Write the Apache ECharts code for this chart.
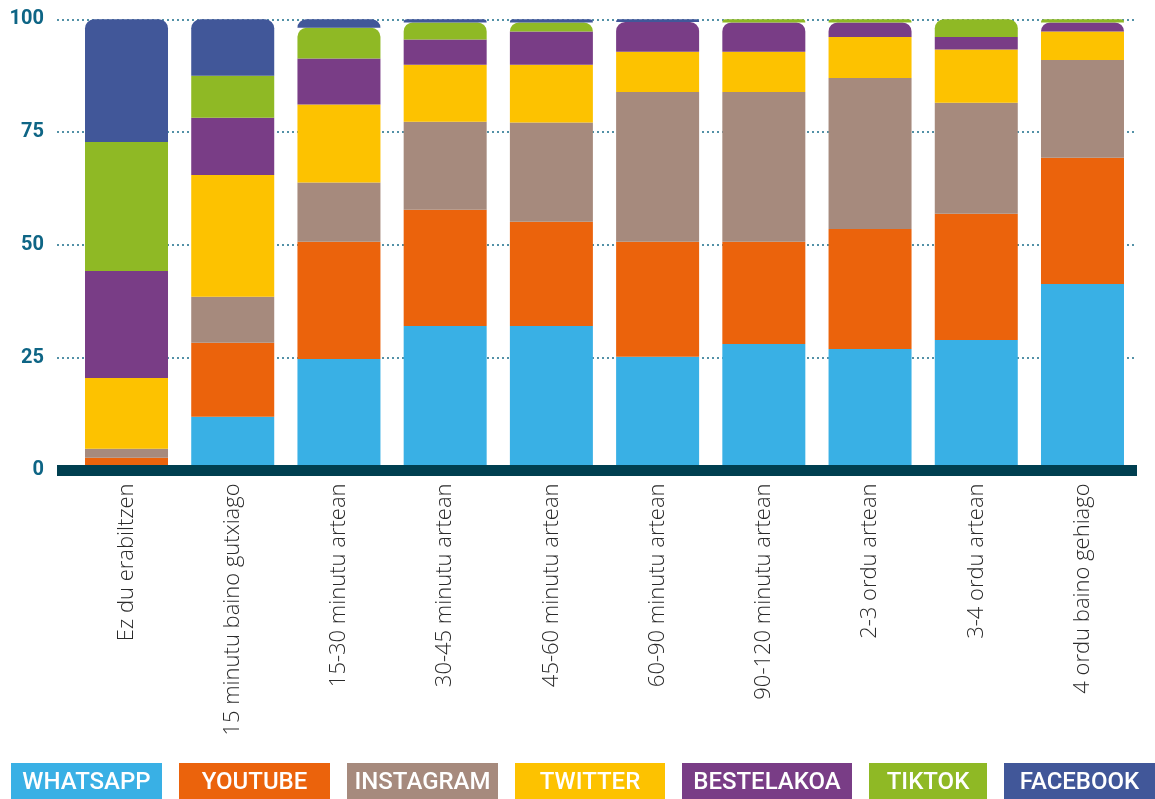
<!DOCTYPE html>
<html>
<head>
<meta charset="utf-8">
<script src="https://cdn.jsdelivr.net/npm/echarts@6/dist/echarts.min.js"></script>
<style>
html,body{margin:0;padding:0;background:#fff;}
#chart{width:1155px;height:799px;}
</style>
</head>
<body>
<div id="chart"></div>
<script>
const categories = ['Ez du erabiltzen','15 minutu baino gutxiago','15-30 minutu artean','30-45 minutu artean','45-60 minutu artean','60-90 minutu artean','90-120 minutu artean','2-3 ordu artean','3-4 ordu artean','4 ordu baino gehiago'];
const seriesNames = ['WHATSAPP','YOUTUBE','INSTAGRAM','TWITTER','BESTELAKOA','TIKTOK','FACEBOOK'];
const whatsapp   = [0, 11.9, 24.7, 32.0, 32.0, 25.2, 28.0, 26.9, 28.9, 41.3];
const youtube    = [2.8, 16.4, 26.0, 25.8, 23.1, 25.5, 22.7, 26.6, 28.0, 28.0];
const instagram  = [2.0, 10.2, 13.1, 19.5, 22.0, 33.2, 33.2, 33.5, 24.6, 21.7];
const twitter    = [15.7, 27.0, 17.3, 12.6, 12.8, 8.9, 8.9, 9.1, 11.8, 6.3];
const bestelakoa = [23.7, 12.7, 10.2, 5.6, 7.4, 6.6, 6.5, 3.2, 2.8, 2.0];
const tiktok     = [28.6, 9.3, 6.8, 3.8, 2.0, 0, 0.7, 0.7, 3.9, 0.7];
const facebook   = [27.2, 12.5, 1.9, 0.7, 0.7, 0.6, 0, 0, 0, 0];
const yTicks = [0, 25, 50, 75, 100];

const values = [whatsapp, youtube, instagram, twitter, bestelakoa, tiktok, facebook];
const colors = ['#39b0e5','#eb630c','#a68a7d','#fdc200','#793d86','#8fb925','#415799'];
const legendWidths = [151,151,151,150,170,118,151];

const R = 9;
const rounded = values.map(() => categories.map(() => false));
categories.forEach((c, ci) => {
  let accPx = 0;
  for (let s = values.length - 1; s >= 0; s--) {
    const v = values[s][ci];
    if (v <= 0) continue;
    rounded[s][ci] = true;
    accPx += v * 4.5;
    if (accPx >= R) break;
  }
});

const series = seriesNames.map((name, s) => ({
  name: name,
  type: 'bar',
  stack: 'total',
  xAxisIndex: 1,
  yAxisIndex: 1,
  barWidth: 83,
  itemStyle: { color: colors[s] },
  data: values[s].map((v, ci) => rounded[s][ci]
    ? { value: v, itemStyle: { borderRadius: [R, R, 0, 0] } }
    : v)
}));

const rich = {};
seriesNames.forEach((n, i) => {
  rich['s' + i] = {
    color: '#fff',
    backgroundColor: colors[i],
    fontSize: 24,
    fontWeight: 500,
    fontFamily: 'Roboto',
    width: legendWidths[i],
    align: 'center',
    lineHeight: 26,
    padding: [8, 0, 10, 0]
  };
});

const chart = echarts.init(document.getElementById('chart'));
chart.setOption({
  animation: false,
  textStyle: { fontFamily: 'Roboto' },
  grid: [
    { left: 57, right: 18, top: 19.3, bottom: 328.6 },
    { left: 73.4, right: 19.4, top: 19.3, bottom: 328.6 }
  ],
  legend: {
    left: 6,
    top: 763,
    width: 1300,
    itemWidth: 0,
    itemHeight: 0,
    itemGap: 12,
    padding: 0,
    selectedMode: false,
    icon: 'rect',
    itemStyle: { opacity: 0 },
    formatter: function (name) {
      return '{s' + seriesNames.indexOf(name) + '|' + name + '}';
    },
    textStyle: { rich: rich },
    data: seriesNames
  },
  xAxis: [
    {
      gridIndex: 0, type: 'value', min: 0, max: 1, z: 10,
      axisLine: { show: true, onZero: false, lineStyle: { color: '#003f50', width: 11, cap: 'butt' } },
      axisTick: { show: false }, axisLabel: { show: false }, splitLine: { show: false }
    },
    {
      gridIndex: 1, type: 'category', data: categories,
      axisLine: { show: false }, axisTick: { show: false },
      axisLabel: { rotate: 90, margin: 13, fontSize: 22, fontWeight: 300, color: '#2a2a2a', fontFamily: 'Open Sans', interval: 0 }
    }
  ],
  yAxis: [
    {
      gridIndex: 0, type: 'value', min: yTicks[0], max: yTicks[yTicks.length-1], interval: 25, z: 0,
      axisLine: { show: false }, axisTick: { show: false },
      axisLabel: { margin: 13, fontSize: 20, fontWeight: 'bold', color: '#0e6585', fontFamily: 'Roboto' },
      splitLine: { show: true, lineStyle: { color: '#1b6d8b', width: 1.5, type: [2, 3] } }
    },
    {
      gridIndex: 1, type: 'value', min: 0, max: 100, show: false, splitLine: { show: false }
    }
  ],
  series: series
});
</script>
</body>
</html>
